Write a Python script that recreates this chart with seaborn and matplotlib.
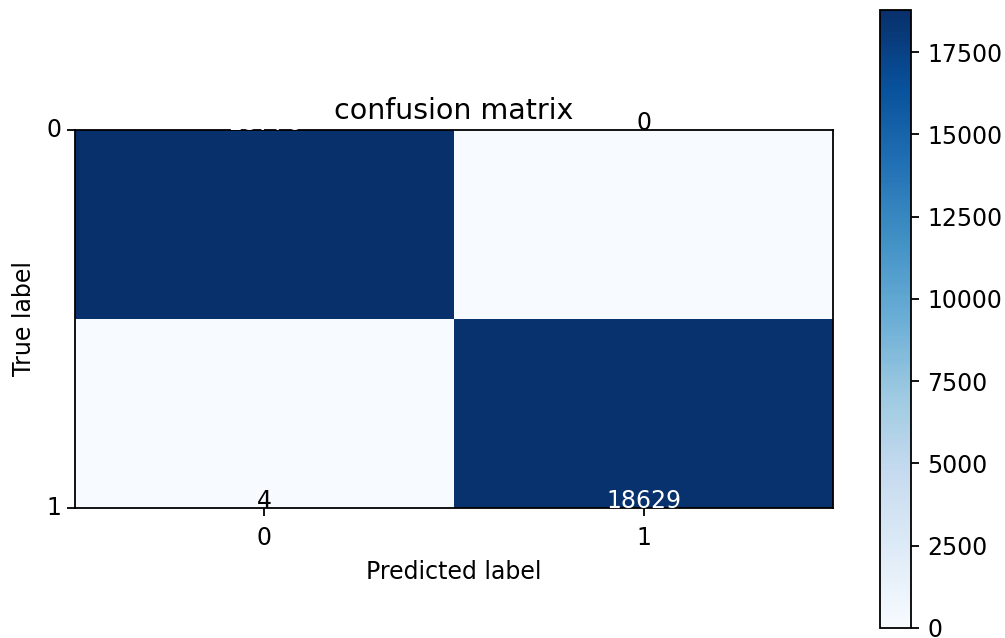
import numpy as np
import pandas as pd
import seaborn as sns
import matplotlib
matplotlib.use('Agg')
import matplotlib.pyplot as plt

sns.set_style('white')
plt.rcParams['font.family'] = ['DejaVu Sans']
plt.rcParams['text.color'] = 'black'
plt.rcParams['axes.labelcolor'] = 'black'
plt.rcParams['xtick.color'] = 'black'
plt.rcParams['ytick.color'] = 'black'

classes = ['0', '1']
cm = np.array([[18776, 0],
               [4, 18629]])

df_cm = pd.DataFrame(cm, index=classes, columns=classes)

fig = plt.figure(figsize=(10.05, 6.38), dpi=100)
ax = fig.add_axes([0.0746, 0.2038, 0.7543, 0.5924])
cax = fig.add_axes([0.8756, 0.0157, 0.0308, 0.9683])

sns.heatmap(df_cm, cmap='Blues', vmin=0, vmax=cm.max(), ax=ax, cbar_ax=cax,
            annot=False, square=False)

# the old plot put row labels on the edges, keep that look
n = len(classes)
ax.set_xticks(np.arange(n) + 0.5)
ax.set_xticklabels(classes, rotation=0, fontsize=17)
ax.set_yticks(np.arange(n) * n / (n - 1))
ax.set_yticklabels(classes, rotation=0, fontsize=17)
ax.tick_params(length=6, width=1.3, color='black', left=True, bottom=True)
ax.tick_params(axis='x', pad=7)

for side in ax.spines.values():
    side.set_visible(True)
    side.set_linewidth(1.3)
    side.set_color('black')

thresh = cm.max() / 2.
for i in range(n):
    for j in range(n):
        ax.text(j + 0.5, i * n / (n - 1), format(cm[i, j], 'd'),
                ha='center', fontsize=17,
                color='white' if cm[i, j] > thresh else 'black')

ax.set_title('confusion matrix', fontsize=20.5, pad=8)
ax.set_ylabel('True label', fontsize=17, labelpad=8)
ax.set_xlabel('Predicted label', fontsize=17, labelpad=7)

cb = ax.collections[0].colorbar
cb.outline.set_visible(True)
cb.outline.set_linewidth(1.3)
cb.outline.set_edgecolor('black')
cax.tick_params(labelsize=17, length=6, width=1.3, color='black', right=True, pad=6)

fig.savefig('out.png', dpi=100)
